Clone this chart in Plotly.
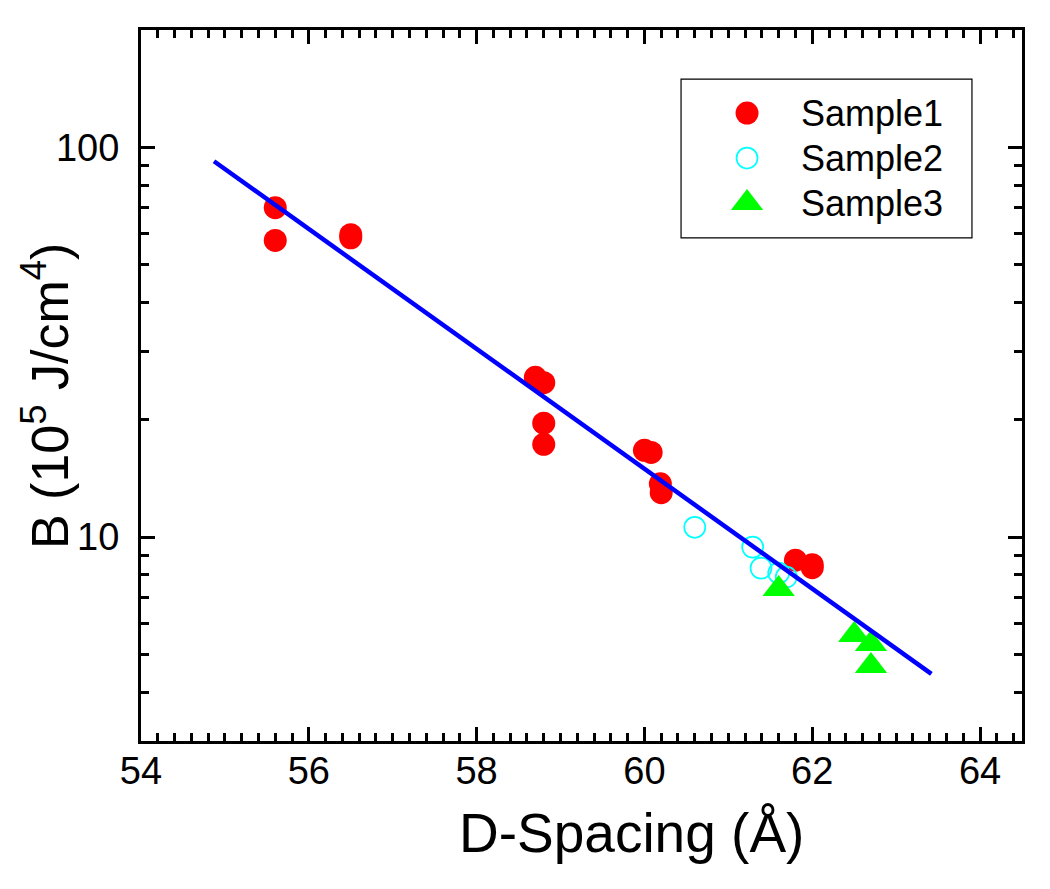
import plotly.graph_objects as go

# ---- data ----
s1_x = [55.6, 55.6, 56.5, 56.5, 58.7, 58.8, 58.8, 58.8, 60.0, 60.08, 60.19, 60.2, 61.8, 62.0, 62.0]
s1_y = [70.0, 57.7, 59.7, 58.6, 25.7, 24.9, 19.6, 17.3, 16.7, 16.5, 13.7, 13.0, 8.73, 8.5, 8.35]

s2_x = [60.6, 61.29, 61.39, 61.6, 61.69]
s2_y = [10.6, 9.43, 8.33, 8.09, 7.9]

s3_x = [61.6, 62.5, 62.7, 62.7]
s3_y = [7.36, 5.61, 5.32, 4.67]

fit_x = [54.87, 63.42]
fit_y = [92.1, 4.46]

series_names = ["Sample1", "Sample2", "Sample3"]

x_ticks = [54, 56, 58, 60, 62, 64]
y_ticks = [10, 100]
y_minor = [3, 4, 5, 6, 7, 8, 9, 20, 30, 40, 50, 60, 70, 80, 90, 200]

FONT = "Arial, Liberation Sans, sans-serif"

styles = [
    dict(symbol="circle", size=23, color="#FF0000"),
    dict(symbol="circle-open", size=21, color="#00FFFF", line=dict(width=1.7, color="#00FFFF")),
    dict(symbol="triangle-up", size=28, color="#00FF00"),
]

fig = go.Figure()
for xs, ys, name, st in zip([s1_x, s2_x, s3_x], [s1_y, s2_y, s3_y], series_names, styles):
    fig.add_trace(go.Scatter(x=xs, y=ys, mode="markers", name=name,
                             marker=st, showlegend=False))
fig.add_trace(go.Scatter(x=fit_x, y=fit_y, mode="lines", showlegend=False,
                         line=dict(color="#0000FF", width=4.5)))

# ---- legend drawn in a small invisible subplot (so symbols keep full size) ----
leg_x0, leg_x1, leg_y0, leg_y1 = 0.613, 0.9432, 0.7075, 0.931
leg_rows = [0.786, 0.503, 0.220]
for name, st, ry in zip(series_names, styles, leg_rows):
    fig.add_trace(go.Scatter(x=[0.2268], y=[ry], mode="markers", marker=st,
                             xaxis="x2", yaxis="y2", showlegend=False, hoverinfo="skip"))
    fig.add_annotation(text=name, xref="x2", yref="y2", x=0.405, y=ry,
                       xanchor="left", yanchor="middle", showarrow=False,
                       font=dict(family=FONT, size=36, color="black"))

fig.add_shape(type="rect", xref="paper", yref="paper",
              x0=leg_x0, x1=leg_x1, y0=leg_y0, y1=leg_y1,
              line=dict(color="black", width=1.2), fillcolor="rgba(0,0,0,0)")

axis_common = dict(
    showline=True, linecolor="black", linewidth=3, mirror="ticks",
    ticks="inside", ticklen=14, tickwidth=2.5, tickcolor="black",
    showgrid=False, zeroline=False,
    tickfont=dict(family=FONT, size=38, color="black"),
)

fig.update_layout(
    xaxis=dict(range=[54, 64.5], tickmode="array", tickvals=x_ticks,
               ticklabelstandoff=-6,
               minor=dict(ticks="inside", ticklen=8, tickwidth=2.5, tickcolor="black",
                          dtick=0.2, tick0=54, showgrid=False),
               **axis_common),
    yaxis=dict(type="log", range=[0.4771, 2.301], tickmode="array", tickvals=y_ticks,
               ticktext=["10", "100"], ticklabelstandoff=11,
               minor=dict(ticks="inside", ticklen=8, tickwidth=2.5, tickcolor="black",
                          tickmode="array", tickvals=y_minor, showgrid=False),
               **axis_common),
    xaxis2=dict(domain=[leg_x0, leg_x1], range=[0, 1], anchor="y2", visible=False,
                fixedrange=True),
    yaxis2=dict(domain=[leg_y0, leg_y1], range=[0, 1], anchor="x2", visible=False,
                fixedrange=True),
)

fig.add_annotation(text="D-Spacing (Å)", xref="paper", yref="paper",
                   x=0.5573, y=-0.130, xanchor="center", yanchor="middle",
                   showarrow=False, font=dict(family=FONT, size=55, color="black"))
fig.add_annotation(text="B (10<sup>5</sup> J/cm<sup>4</sup>)", xref="paper", yref="paper",
                   x=-0.108, y=0.485, xanchor="center", yanchor="middle", textangle=-90,
                   showarrow=False, font=dict(family=FONT, size=52, color="black"))

fig.update_layout(
    width=1050, height=889,
    margin=dict(l=133, r=36, t=22, b=156),
    paper_bgcolor="white", plot_bgcolor="white",
    showlegend=False,
)

fig.write_html("out.html")
